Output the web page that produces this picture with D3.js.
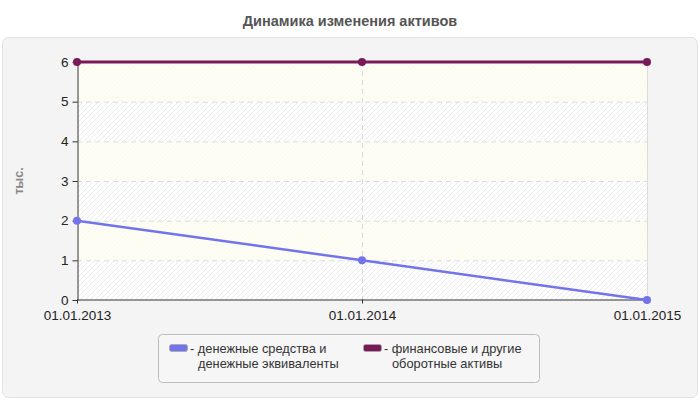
<!DOCTYPE html>
<html>
<head>
<meta charset="utf-8">
<script src="https://cdn.jsdelivr.net/npm/d3@7"></script>
<style>
  body { margin: 0; background: #fff; }
  svg { display: block; font-family: "Liberation Sans", Arial, sans-serif; }
</style>
</head>
<body>
<div class="visualization"></div>
<script>
const dates = ["01.01.2013", "01.01.2014", "01.01.2015"];
const seriesNames = ["денежные средства и денежные эквиваленты", "финансовые и другие оборотные активы"];
const cashValues = [2, 1, 0];
const otherValues = [6, 6, 6];
const yTicks = [0, 1, 2, 3, 4, 5, 6];
const legendLines = [["денежные средства и", "денежные эквиваленты"], ["финансовые и другие", "оборотные активы"]];
const colors = ["#7474ea", "#771a57"];

const width = 700, height = 400;
const plotLeft = 77, plotRight = 647, plotTop = 62, plotBottom = 300;

const svg = d3.select(".visualization").append("svg")
  .attr("width", width).attr("height", height);

const defs = svg.append("defs");
const pat = defs.append("pattern")
  .attr("id", "hatch").attr("patternUnits", "userSpaceOnUse")
  .attr("width", 5).attr("height", 5);
pat.append("rect").attr("width", 5).attr("height", 5).attr("fill", "#ffffff");
pat.append("path")
  .attr("d", "M-1,1 L1,-1 M0,5 L5,0 M4,6 L6,4")
  .attr("stroke", "#ececec").attr("stroke-width", 1);

// title
svg.append("text")
  .attr("x", 350).attr("y", 26)
  .attr("text-anchor", "middle")
  .attr("font-size", 14.5).attr("font-weight", "bold")
  .attr("fill", "#555")
  .text("Динамика изменения активов");

// panel
svg.append("rect")
  .attr("x", 2.5).attr("y", 37.5).attr("width", 695).attr("height", 360)
  .attr("rx", 6).attr("fill", "#f4f4f4").attr("stroke", "#e2e2e2");

const x = d3.scalePoint().domain(dates).range([plotLeft, plotRight]);
const y = d3.scaleLinear().domain([0, 6]).range([plotBottom, plotTop]);

// plot background
svg.append("rect")
  .attr("x", plotLeft).attr("y", plotTop)
  .attr("width", plotRight - plotLeft).attr("height", plotBottom - plotTop)
  .attr("fill", "url(#hatch)");

// alternating bands
svg.selectAll("rect.band")
  .data(yTicks.slice(1).filter(d => d % 2 === 0))
  .enter().append("rect")
  .attr("class", "band")
  .attr("x", plotLeft).attr("width", plotRight - plotLeft)
  .attr("y", d => y(d)).attr("height", d => y(d - 1) - y(d))
  .attr("fill", "#fdfdf2").attr("opacity", 0.85);

// grid
svg.selectAll("line.hgrid")
  .data(yTicks.slice(1, -1))
  .enter().append("line")
  .attr("class", "hgrid")
  .attr("x1", plotLeft).attr("x2", plotRight)
  .attr("y1", d => y(d) + 0.5).attr("y2", d => y(d) + 0.5)
  .attr("stroke", "#dcdcdc").attr("stroke-dasharray", "5,4");

svg.selectAll("line.vgrid")
  .data(dates.slice(1, -1))
  .enter().append("line")
  .attr("class", "vgrid")
  .attr("x1", d => x(d) + 0.5).attr("x2", d => x(d) + 0.5)
  .attr("y1", plotTop).attr("y2", plotBottom)
  .attr("stroke", "#dcdcdc").attr("stroke-dasharray", "5,4");

svg.append("line")
  .attr("x1", plotRight + 0.5).attr("x2", plotRight + 0.5)
  .attr("y1", plotTop).attr("y2", plotBottom)
  .attr("stroke", "#dcdcdc");

// axes
const yaxis = d3.axisLeft(y).tickValues(yTicks).tickFormat(d3.format("d"))
  .tickSize(5).tickPadding(4).tickSizeOuter(0);
const gy = svg.append("g")
  .attr("transform", "translate(" + (plotLeft + 0.5) + ",0)")
  .call(yaxis);
gy.selectAll("text").attr("font-size", 13.5).attr("fill", "#222").attr("font-family", "Liberation Sans, Arial, sans-serif");
gy.selectAll("line, path").attr("stroke", "#333");

const xaxis = d3.axisBottom(x).tickSize(4).tickPadding(7).tickSizeOuter(0);
const gx = svg.append("g")
  .attr("transform", "translate(0," + (plotBottom - 0.5) + ")")
  .call(xaxis);
gx.selectAll("text").attr("font-size", 13.5).attr("fill", "#222").attr("font-family", "Liberation Sans, Arial, sans-serif");
gx.selectAll("line, path").attr("stroke", "#333");

// y label
svg.append("text")
  .attr("transform", "translate(23,181) rotate(-90)")
  .attr("text-anchor", "middle")
  .attr("font-size", 12.5).attr("font-weight", "bold")
  .attr("fill", "#888")
  .text("тыс.");

// lines
const series = [cashValues, otherValues];
const line = d3.line().x((d, i) => x(dates[i])).y(d => y(d));

series.forEach((vals, k) => {
  svg.append("path")
    .datum(vals)
    .attr("d", line)
    .attr("fill", "none")
    .attr("stroke", colors[k])
    .attr("stroke-width", k === 0 ? 2.5 : 3);
  svg.selectAll("circle.s" + k)
    .data(vals)
    .enter().append("circle")
    .attr("class", "s" + k)
    .attr("cx", (d, i) => x(dates[i]))
    .attr("cy", d => y(d))
    .attr("r", 4)
    .attr("fill", colors[k]);
});

// legend
svg.append("rect")
  .attr("x", 158.5).attr("y", 334.5).attr("width", 381).attr("height", 48)
  .attr("rx", 4).attr("fill", "#f6f6f6").attr("stroke", "#bdbdbd");

const legendX = [169, 363];
legendLines.forEach((lines, k) => {
  const g = svg.append("g").attr("transform", "translate(" + legendX[k] + ",0)");
  g.append("rect")
    .attr("x", 0.5).attr("y", 344.5).attr("width", 18).attr("height", 7)
    .attr("rx", 2).attr("fill", colors[k]).attr("stroke", "#aaa").attr("stroke-width", 0.8);
  g.append("text")
    .attr("x", 21).attr("y", 353)
    .attr("font-size", 12.8).attr("fill", "#333")
    .text("- " + lines[0]);
  g.append("text")
    .attr("x", 29).attr("y", 367.5)
    .attr("font-size", 12.8).attr("fill", "#333")
    .text(lines[1]);
});
</script>
</body>
</html>
